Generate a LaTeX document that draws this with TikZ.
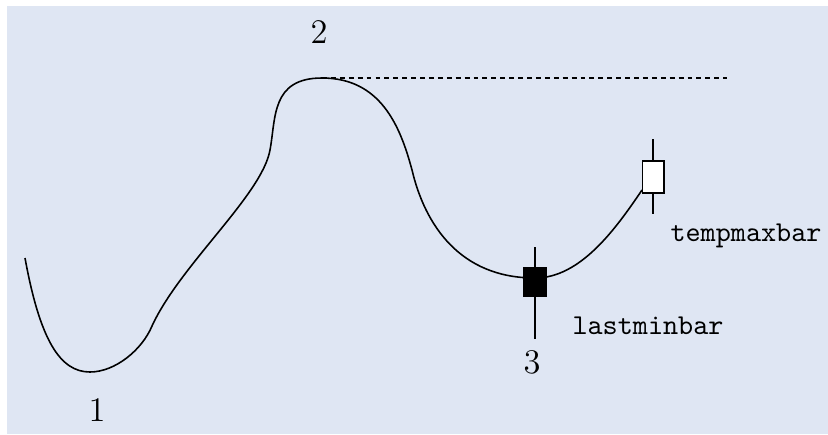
\documentclass[tikz,border=0pt]{standalone}
\usepackage{tikz}
\usetikzlibrary{arrows.meta, positioning}
\definecolor{bgblue}{RGB}{223,230,243}

\begin{document}
\begin{tikzpicture}[x=0.3477pt, y=-0.3477pt, semithick,
      bar/.style={draw, thin, inner sep=0pt, minimum width=8pt},
      minbar/.style={bar, fill=black, minimum height=9.7pt},
      maxbar/.style={bar, fill=white, minimum width=7.6pt, minimum height=11.1pt},
      num/.style={font=\large},
      lbl/.style={font=\ttfamily}]

    % === frame ===
    \useasboundingbox (0,0) rectangle (828,434);
    \fill[bgblue] (7,6) rectangle (828,434);

    % === turning points ===
    \coordinate (p1) at (90,372);
    \coordinate (p2) at (322,78);
    \coordinate (p3) at (535,278);
    \coordinate (dashend) at (727,78);

    % === price path ===
    \draw[line width=0.55pt] (25,258) .. controls (40,340) and (60,372) .. (p1)
        .. controls (115,372) and (142,350) .. (152,326)
        .. controls (180,265) and (262,195) .. (270,150)
        .. controls (276,118) and (271,78) .. (p2)
        .. controls (380,78) and (400,125) .. (412,170)
        .. controls (425,225) and (460,278) .. (p3)
        .. controls (580,278) and (615,230) .. (642,190);
    \draw[thin, dash pattern=on 1.7pt off 1.4pt] (p2) -- (dashend);

    % === bars ===
    \coordinate (mintop) at (535,247);
    \coordinate (minbot) at (535,339);
    \draw[thin] (mintop) -- (minbot);
    \node[minbar] (lastmin) at (535,282) {};

    \coordinate (maxtop) at (653,139);
    \coordinate (maxbot) at (653,214);
    \draw[thin] (maxtop) -- (maxbot);
    \node[maxbar] (tempmax) at (653,177) {};

    % === labels ===
    \node[num] (n1) at (97,410) {1};
    \node[num] (n2) at (319,32)  {2};
    \node[num] (n3) at (532,362) {3};
    \node[lbl] (lastminlbl) at (648,326) {lastminbar};
    \node[lbl] (tempmaxlbl) at (746,236) {tempmaxbar};

\end{tikzpicture}
\end{document}
